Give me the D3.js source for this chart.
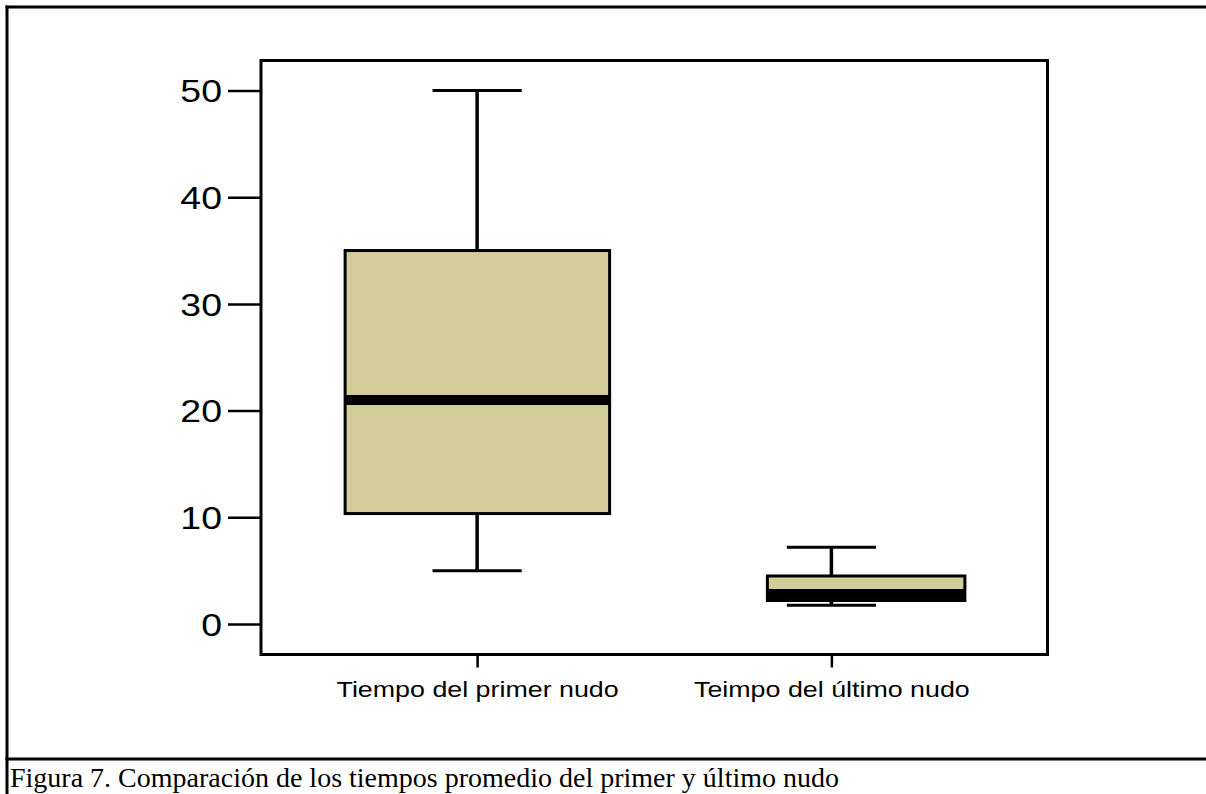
<!DOCTYPE html>
<html>
<head>
<meta charset="utf-8">
<script src="https://cdn.jsdelivr.net/npm/d3@7/dist/d3.min.js"></script>
<style>
  html, body { margin: 0; padding: 0; background: #fff; }
  svg { display: block; }
</style>
</head>
<body>
<svg id="chart" width="1206" height="794"></svg>
<script>
// ---- data ----
const categories = ["Tiempo del primer nudo", "Teimpo del último nudo"];
const whiskerLow  = [5.0, 1.75];
const q1Values    = [10.35, 2.2];
const medians     = [21.0, 2.8];
const q3Values    = [35.0, 4.5];
const whiskerHigh = [50.0, 7.2];
const yTicks      = [0, 10, 20, 30, 40, 50];
const caption = "Figura 7. Comparación de los tiempos promedio del primer y último nudo";

// ---- layout ----
const W = 1206, H = 794;
const plot = { left: 261, top: 60.5, right: 1047.5, bottom: 654.5 };
const boxLeftHalf  = [132, 64];
const boxRightHalf = [132.5, 133.5];
const capHalf = 44.6;
const fillColor = "#d3ce99";
const stretchX = 1.17;

const svg = d3.select("#chart");

// outer frame lines
svg.append("line").attr("x1", 5.5).attr("x2", W).attr("y1", 7).attr("y2", 7)
  .attr("stroke", "#000").attr("stroke-width", 3);
svg.append("line").attr("x1", 7).attr("x2", 7).attr("y1", 5.5).attr("y2", H)
  .attr("stroke", "#000").attr("stroke-width", 3);
svg.append("line").attr("x1", 5.5).attr("x2", W).attr("y1", 759).attr("y2", 759)
  .attr("stroke", "#000").attr("stroke-width", 3);

// scales
const x = d3.scalePoint().domain(categories).range([plot.left, plot.right]).padding(0.61);
const y = d3.scaleLinear().domain([0, 50]).range([624, 90.5]);

// y axis
const yAxis = d3.axisLeft(y).tickValues(yTicks).tickSize(33).tickPadding(6).tickFormat(d3.format("d"));
const gy = svg.append("g").attr("transform", `translate(${plot.left},0)`).call(yAxis);
gy.select(".domain").remove();
gy.selectAll(".tick line").attr("stroke", "#000").attr("stroke-width", 2.5);
gy.selectAll(".tick text")
  .attr("font-family", "Liberation Sans, Arial, sans-serif")
  .attr("font-size", 32).attr("fill", "#000")
  .attr("x", 0)
  .attr("dy", "0.35em")
  .attr("transform", `translate(-39,0) scale(${stretchX},1)`);

// x axis
const xAxis = d3.axisBottom(x).tickSize(13).tickPadding(14);
const gx = svg.append("g").attr("transform", `translate(0,${plot.bottom})`).call(xAxis);
gx.select(".domain").remove();
gx.selectAll(".tick line").attr("stroke", "#000").attr("stroke-width", 2.5);
gx.selectAll(".tick text")
  .attr("font-family", "Liberation Sans, Arial, sans-serif")
  .attr("font-size", 22).attr("fill", "#000")
  .attr("y", 0)
  .attr("dy", "0.71em")
  .attr("transform", `translate(0,27) scale(1.22,1)`);

// boxes
const g = svg.append("g");
categories.forEach((c, i) => {
  const cx = x(c);
  g.append("line").attr("x1", cx).attr("x2", cx)
    .attr("y1", y(q3Values[i])).attr("y2", y(whiskerHigh[i]))
    .attr("stroke", "#000").attr("stroke-width", 3.5);
  g.append("line").attr("x1", cx).attr("x2", cx)
    .attr("y1", y(q1Values[i])).attr("y2", y(whiskerLow[i]))
    .attr("stroke", "#000").attr("stroke-width", 3.5);
  g.append("line").attr("x1", cx - capHalf).attr("x2", cx + capHalf)
    .attr("y1", y(whiskerHigh[i])).attr("y2", y(whiskerHigh[i]))
    .attr("stroke", "#000").attr("stroke-width", 3);
  g.append("line").attr("x1", cx - capHalf).attr("x2", cx + capHalf)
    .attr("y1", y(whiskerLow[i])).attr("y2", y(whiskerLow[i]))
    .attr("stroke", "#000").attr("stroke-width", 3);
  g.append("rect")
    .attr("x", cx - boxLeftHalf[i]).attr("y", y(q3Values[i]))
    .attr("width", boxLeftHalf[i] + boxRightHalf[i])
    .attr("height", y(q1Values[i]) - y(q3Values[i]))
    .attr("fill", fillColor).attr("stroke", "#000").attr("stroke-width", 3);
  g.append("line").attr("x1", cx - boxLeftHalf[i]).attr("x2", cx + boxRightHalf[i])
    .attr("y1", y(medians[i])).attr("y2", y(medians[i]))
    .attr("stroke", "#000").attr("stroke-width", 10);
});

// plot frame
svg.append("rect")
  .attr("x", plot.left).attr("y", plot.top)
  .attr("width", plot.right - plot.left).attr("height", plot.bottom - plot.top)
  .attr("fill", "none").attr("stroke", "#000").attr("stroke-width", 3);

// caption
svg.append("text").attr("x", 10).attr("y", 787)
  .attr("font-family", "Liberation Serif, Times New Roman, serif")
  .attr("font-size", 28).attr("fill", "#000")
  .text(caption);
</script>
</body>
</html>
